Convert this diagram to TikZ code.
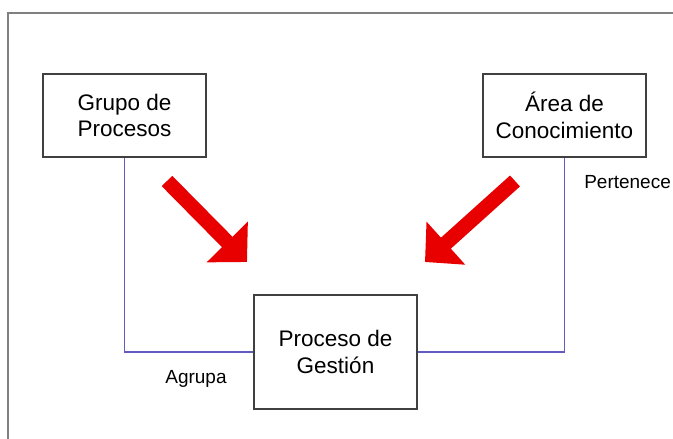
\documentclass[tikz,border=0pt]{standalone}
\usepackage{fontspec}
\setmainfont{Liberation Sans}
\usetikzlibrary{arrows.meta, positioning}
\definecolor{marco}{RGB}{128,128,128}
\definecolor{enlaceazul}{RGB}{100,90,195}
\definecolor{flecharoja}{RGB}{232,0,0}

\begin{document}
\begin{tikzpicture}[x=0.025cm, y=-0.025cm,
		caja/.style={draw=black!75, line width=1.1pt, fill=white, minimum width=4.075cm,
			minimum height=2.075cm, align=center, font=\fontsize{16}{19}\selectfont},
		enlace/.style={draw=enlaceazul, line width=1.1pt},
		etiqueta/.style={inner sep=0pt, font=\fontsize{13.5}{16}\selectfont},
		flecha/.style={draw=flecharoja, line width=10.5pt,
			-{Triangle[length=20pt, width=40pt, fill=flecharoja]}}]
	\useasboundingbox (0,0) rectangle (673,439);
	% Frame (only top and left edges visible)
	\draw[marco, line width=2pt] (8,460) -- (8,13) -- (690,13);
	% Boxes
	\node[caja] (grupo) at (124.5,115.5) {Grupo de\\Procesos};
	\node[caja] (area) at (564.5,115.5) {Área de\\Conocimiento};
	\node[caja, minimum height=2.85cm] (proceso) at (335.5,352) {Proceso de\\Gestión};
	% Links
	\draw[enlace] (grupo.south) |- (proceso.west);
	\draw[enlace] (area.south) |- (proceso.east);
	\node[etiqueta] (agrupa) at (196,379) {Agrupa};
	\node[etiqueta, anchor=west] (pertenece) at (584,182) {Pertenece};
	% Red arrows
	\draw[flecha] (167,181) -- (247,262);
	\draw[flecha] (515,181) -- (425,262);
\end{tikzpicture}
\end{document}
